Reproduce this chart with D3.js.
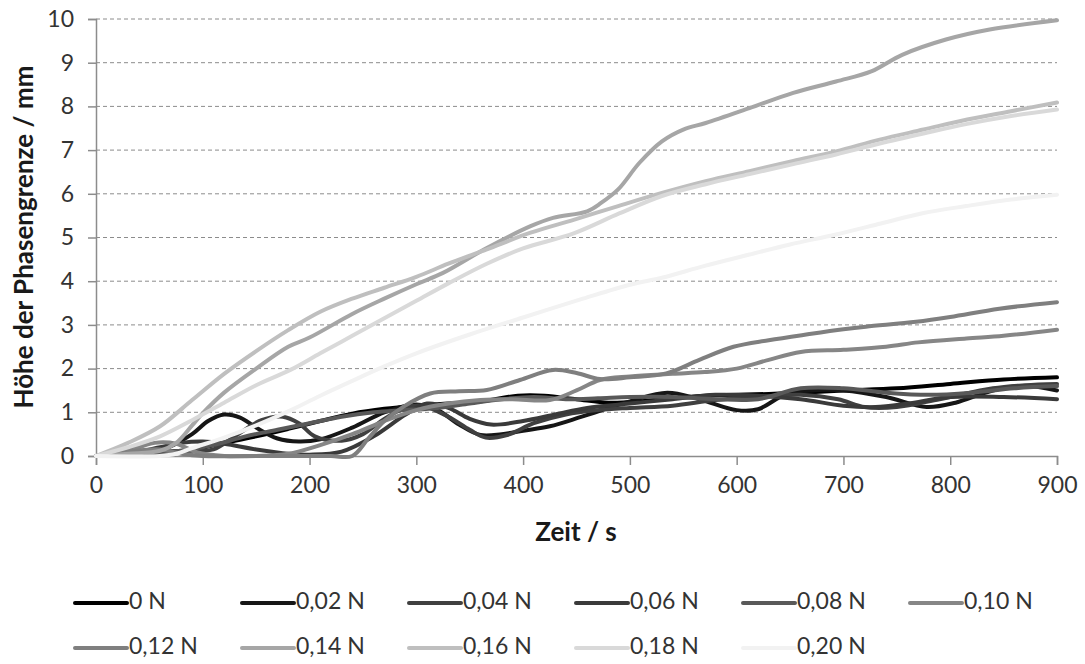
<!DOCTYPE html>
<html><head><meta charset="utf-8">
<script src="https://cdn.jsdelivr.net/npm/d3@7"></script>
<style>body{margin:0;background:#fff}svg{display:block}</style>
</head><body>
<svg id="chart" width="1085" height="664"></svg>
<script>
// ---- data ----
const seriesLabels = ["0 N","0,02 N","0,04 N","0,06 N","0,08 N","0,10 N","0,12 N","0,14 N","0,16 N","0,18 N","0,20 N"];
const seriesColors = ["#000000","#161616","#404040","#3a3a3a","#595959","#868686","#7f7f7f","#a6a6a6","#bfbfbf","#d9d9d9","#f2f2f2"];
const xTicks = [0,100,200,300,400,500,600,700,800,900];
const yTicks = [0,1,2,3,4,5,6,7,8,9,10];
const xTitle = "Zeit / s";
const yTitle = "Höhe der Phasengrenze / mm";

// [time s, height mm]
const s000 = [[0,0],[30,0.03],[60,0.08],[90,0.15],[120,0.3],[150,0.45],[180,0.62],[210,0.8],[240,0.97],[270,1.08],[300,1.15],[330,1.2],[360,1.25],[395,1.38],[420,1.38],[450,1.3],[480,1.22],[510,1.25],[540,1.32],[570,1.38],[600,1.4],[630,1.42],[660,1.45],[700,1.5],[750,1.55],[800,1.65],[850,1.75],[900,1.8]];
const s002 = [[0,0],[30,0.03],[60,0.12],[90,0.5],[105,0.8],[120,0.95],[135,0.88],[150,0.65],[170,0.4],[190,0.33],[210,0.38],[240,0.65],[270,1.0],[300,1.18],[320,1.05],[340,0.72],[360,0.48],[380,0.5],[400,0.58],[425,0.68],[455,0.9],[500,1.25],[535,1.45],[565,1.3],[600,1.05],[620,1.07],[645,1.4],[670,1.5],[700,1.5],[740,1.35],[778,1.12],[805,1.22],[840,1.5],[870,1.6],[900,1.5]];
const s004 = [[0,0],[30,0.05],[60,0.1],[90,0.12],[110,0.15],[130,0.45],[155,0.82],[175,0.9],[190,0.75],[205,0.45],[230,0.35],[250,0.5],[270,0.85],[290,1.1],[305,1.15],[330,0.9],[350,0.6],[365,0.42],[385,0.48],[410,0.75],[440,0.95],[470,1.05],[500,1.1],[540,1.15],[580,1.28],[620,1.35],[660,1.4],[695,1.3],[720,1.12],[750,1.12],[790,1.3],[840,1.55],[870,1.62],[900,1.65]];
const s006 = [[0,0],[40,0.1],[60,0.2],[80,0.3],[100,0.33],[120,0.28],[150,0.15],[180,0.05],[200,0.03],[230,0.1],[260,0.45],[290,0.95],[310,1.2],[330,1.1],[350,0.85],[370,0.72],[400,0.8],[430,0.95],[460,1.1],[500,1.2],[540,1.3],[580,1.4],[620,1.38],[660,1.3],[700,1.15],[730,1.12],[760,1.2],[800,1.35],[850,1.35],[900,1.3]];
const s008 = [[0,0],[40,0.05],[80,0.12],[110,0.25],[140,0.45],[170,0.6],[200,0.75],[230,0.9],[260,1.0],[290,1.05],[320,1.1],[350,1.2],[380,1.3],[410,1.35],[440,1.3],[470,1.32],[500,1.35],[540,1.35],[580,1.3],[620,1.3],[660,1.55],[700,1.55],[740,1.45],[780,1.4],[820,1.45],[860,1.55],[900,1.6]];
const s010 = [[0,0],[30,0.12],[55,0.3],[75,0.28],[95,0.08],[120,0.0],[150,0.0],[180,0.05],[210,0.25],[240,0.5],[270,0.8],[300,1.05],[330,1.2],[360,1.28],[390,1.3],[425,1.28],[450,1.5],[472,1.74],[500,1.82],[540,1.88],[570,1.92],[600,2.0],[630,2.2],[660,2.38],[700,2.43],[740,2.5],[770,2.6],[815,2.69],[850,2.75],[900,2.89]];
const s012 = [[0,0],[30,0.1],[60,0.15],[80,0.05],[100,0],[140,0],[180,0],[220,0],[240,0],[255,0.4],[270,0.8],[288,1.13],[313,1.43],[340,1.48],[366,1.51],[397,1.74],[428,1.97],[450,1.9],[472,1.76],[500,1.8],[534,1.89],[565,2.2],[597,2.5],[630,2.65],[668,2.79],[700,2.9],[721,2.96],[768,3.07],[800,3.18],[846,3.37],[900,3.52]];
const s014 = [[0,0],[30,0.05],[60,0.12],[75,0.3],[90,0.7],[100,0.98],[120,1.45],[150,2.0],[180,2.5],[200,2.71],[240,3.25],[270,3.6],[300,3.93],[325,4.19],[366,4.76],[407,5.26],[428,5.45],[460,5.6],[473,5.79],[489,6.1],[509,6.71],[530,7.2],[550,7.47],[571,7.62],[612,7.96],[653,8.31],[693,8.57],[726,8.8],[755,9.18],[796,9.53],[837,9.76],[900,9.97]];
const s016 = [[0,0],[30,0.3],[60,0.68],[90,1.28],[120,1.88],[150,2.4],[180,2.88],[210,3.3],[240,3.6],[270,3.85],[300,4.1],[330,4.4],[366,4.73],[407,5.11],[448,5.41],[489,5.72],[530,6.02],[571,6.29],[612,6.52],[653,6.75],[693,6.97],[734,7.24],[775,7.47],[816,7.7],[857,7.89],[900,8.09]];
const s018 = [[0,0],[30,0.2],[60,0.45],[90,0.82],[120,1.22],[150,1.62],[182,1.97],[210,2.35],[240,2.75],[270,3.15],[300,3.55],[330,3.95],[366,4.4],[400,4.75],[448,5.1],[490,5.55],[530,5.95],[571,6.22],[612,6.45],[653,6.68],[693,6.9],[734,7.15],[775,7.38],[816,7.6],[857,7.78],[900,7.93]];
const s020 = [[0,0],[60,0.0],[75,0.05],[90,0.18],[120,0.42],[150,0.7],[180,1.02],[210,1.38],[240,1.72],[270,2.05],[300,2.35],[350,2.78],[400,3.17],[456,3.6],[500,3.92],[530,4.08],[570,4.35],[612,4.61],[650,4.84],[693,5.07],[735,5.32],[775,5.56],[815,5.72],[857,5.87],[900,5.98]];
const seriesData = [s000,s002,s004,s006,s008,s010,s012,s014,s016,s018,s020];

// ---- chart ----
const svg = d3.select("#chart");
const font = "Lato, 'Open Sans', sans-serif";
const x = d3.scaleLinear().domain([0,900]).range([96,1057]);
const y = d3.scaleLinear().domain([0,10]).range([456,19]);
const axisCol = "#8c8c8c";

// gridlines
svg.append("g").selectAll("line").data(yTicks.filter(d=>d>0)).join("line")
  .attr("x1",x(0)).attr("x2",x(900)).attr("y1",d=>y(d)).attr("y2",d=>y(d))
  .attr("stroke","#8c8c8c").attr("stroke-width",1).attr("stroke-dasharray","4,3");

// axes
const yAxis = d3.axisLeft(y).tickValues(yTicks).tickSize(8).tickPadding(14);
const xAxis = d3.axisBottom(x).tickValues(xTicks).tickSize(9).tickPadding(12);
const gy = svg.append("g").attr("transform",`translate(${x(0)},0)`).call(yAxis);
const gx = svg.append("g").attr("transform",`translate(0,${y(0)})`).call(xAxis);
[gx,gy].forEach(g=>{
  g.select(".domain").attr("stroke",axisCol).attr("stroke-width",1.5);
  g.selectAll(".tick line").attr("stroke",axisCol).attr("stroke-width",1.5);
  g.selectAll("text").attr("font-family",font).attr("font-size",23).attr("fill","#333333");
});

// lines
const line = d3.line().x(d=>x(d[0])).y(d=>y(d[1])).curve(d3.curveCatmullRom.alpha(0.5));
svg.append("g").selectAll("path").data(seriesData).join("path")
  .attr("d",line).attr("fill","none")
  .attr("stroke",(d,i)=>seriesColors[i]).attr("stroke-width",4)
  .attr("stroke-linejoin","round").attr("stroke-linecap","round");

// titles
svg.append("text").attr("x",576).attr("y",534).attr("text-anchor","middle").attr("dominant-baseline","middle")
  .attr("font-family",font).attr("font-weight","bold").attr("font-size",26).attr("fill","#1a1a1a").text(xTitle);
svg.append("text").attr("transform","translate(26,237) rotate(-90)").attr("text-anchor","middle").attr("dominant-baseline","middle")
  .attr("font-family",font).attr("font-weight","bold").attr("font-size",26).attr("fill","#1a1a1a").text(yTitle);

// legend
const lg = svg.append("g").selectAll("g").data(seriesLabels).join("g")
  .attr("transform",(d,i)=>`translate(${75 + (i%6)*167},${i<6?603:648})`);
lg.append("line").attr("x1",0).attr("x2",52).attr("y1",0).attr("y2",0)
  .attr("stroke",(d,i)=>seriesColors[i]).attr("stroke-width",4).attr("stroke-linecap","round");
lg.append("text").attr("x",54).attr("y",0).attr("dominant-baseline","middle")
  .attr("font-family",font).attr("font-size",23).attr("fill","#333333").text(d=>d);
</script>
</body></html>
